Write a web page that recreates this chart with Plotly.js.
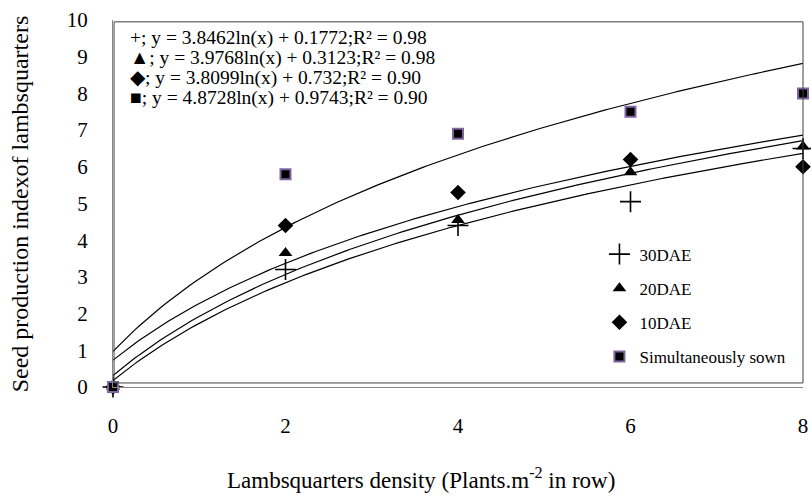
<!DOCTYPE html>
<html>
<head>
<meta charset="utf-8">
<script src="https://cdn.plot.ly/plotly-3.0.1.min.js"></script>
<style>html,body{margin:0;padding:0;background:#fff;}</style>
</head>
<body>
<div id="chart" style="width:811px;height:497px;"></div>
<script>
// Data
const density = [0, 2, 4, 6, 8];
const dae30 = [0, 3.2, 4.4, 5.05, 6.5];
const dae20 = [0, 3.65, 4.55, 5.85, 6.55];
const dae10 = [0, 4.4, 5.3, 6.2, 6.0];
const simSown = [0, 5.8, 6.9, 7.5, 8.0];
const seriesNames = ["30DAE", "20DAE", "10DAE", "Simultaneously sown"];
// Trendline coefficients as printed (Excel log trendline on point index 1..5)
const trendA = [3.8462, 3.9768, 3.8099, 4.8728];
const trendB = [0.1772, 0.3123, 0.732, 0.9743];
const trendR2 = ["0.98", "0.98", "0.90", "0.90"];
const trendSymbols = ["+", "\u25B2", "\u25C6", "\u25A0"];
const xTicks = [0, 2, 4, 6, 8];
const yTicks = [0, 1, 2, 3, 4, 5, 6, 7, 8, 9, 10];

const serif = "Liberation Serif, Times New Roman, serif";

// trendline curves from the printed equations
const curveX = [];
for (let i = 0; i <= 160; i++) curveX.push(i * 8 / 160);
const trendTraces = trendA.map((a, k) => ({
  x: curveX,
  y: curveX.map(x => a * Math.log(x / 2 + 1) + trendB[k]),
  mode: "lines",
  line: {color: "#000", width: 1.2},
  showlegend: false,
  hoverinfo: "skip"
}));

const values = [dae30, dae20, dae10, simSown];
const markers = [
  {symbol: "cross-thin", size: 15, color: "#000", line: {color: "#000", width: 1.6}},
  {symbol: "triangle-up", size: 12, color: "#000"},
  {symbol: "diamond", size: 12, color: "#000"},
  {symbol: "square", size: 10, color: "#000", line: {color: "#8064a2", width: 2}}
];
const pointTraces = values.map((v, k) => ({
  x: density,
  y: v,
  mode: "markers",
  name: seriesNames[k],
  legendgroup: "g" + k,
  marker: markers[k],
  cliponaxis: false
}));

const eqLines = trendA.map((a, k) =>
  trendSymbols[k] + "; y = " + a + "ln(x) + " + trendB[k] + ";R\u00B2 = " + trendR2[k]);
const eqY = [0.951, 0.8965, 0.842, 0.7875];
const eqAnnotations = eqLines.map((t, k) => ({
  xref: "paper", yref: "paper", x: 0.022, y: eqY[k], xanchor: "left", yanchor: "middle",
  text: t, align: "left", showarrow: false,
  font: {family: serif, size: 19.5, color: "#000"}
}));

const layout = {
  width: 811, height: 497,
  margin: {l: 113, r: 8, t: 20, b: 110},
  paper_bgcolor: "#fff", plot_bgcolor: "#fff",
  font: {family: serif, color: "#000"},
  showlegend: true,
  legend: {
    x: 0.705, y: 0.41, xanchor: "left", yanchor: "top",
    bgcolor: "rgba(0,0,0,0)", borderwidth: 0,
    font: {family: serif, size: 17, color: "#000"},
    tracegroupgap: 9
  },
  xaxis: {
    range: [0, 8], tickvals: xTicks, ticktext: xTicks.map(String),
    showgrid: false, zeroline: false, showline: true, linecolor: "#868686", linewidth: 1,
    ticks: "", ticklabelstandoff: 20,
    tickfont: {family: serif, size: 21, color: "#000"}
  },
  yaxis: {
    range: [0, 10], tickvals: yTicks, ticktext: yTicks.map(String),
    showgrid: false, zeroline: false, showline: true, linecolor: "#868686", linewidth: 1,
    ticks: "", ticklabelstandoff: 20,
    tickfont: {family: serif, size: 21, color: "#000"}
  },
  shapes: [{
    type: "rect", xref: "paper", yref: "paper",
    x0: 0.0015, x1: 1, y0: 0.011, y1: 0.995,
    line: {color: "#404040", width: 1}
  }],
  annotations: eqAnnotations.concat([
    {
      xref: "paper", yref: "paper", x: 0.446, y: -0.25, xanchor: "center", yanchor: "middle",
      text: "Lambsquarters density (Plants.m<sup>-2</sup> in row)", showarrow: false,
      font: {family: serif, size: 23, color: "#000"}
    },
    {
      xref: "paper", yref: "paper", x: -0.135, y: 0.5, xanchor: "center", yanchor: "middle",
      text: "Seed production indexof lambsquarters", textangle: -90, showarrow: false,
      font: {family: serif, size: 24, color: "#000"}
    }
  ])
};

Plotly.newPlot("chart", trendTraces.concat(pointTraces), layout, {displayModeBar: false, staticPlot: true});
</script>
</body>
</html>
